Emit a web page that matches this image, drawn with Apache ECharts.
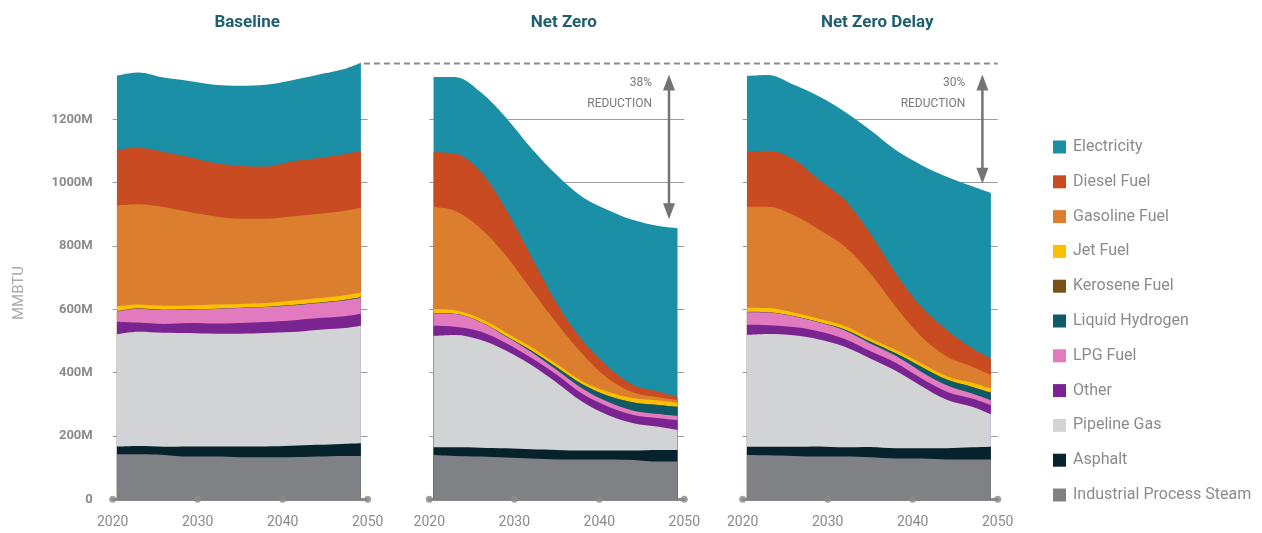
<!DOCTYPE html>
<html>
<head>
<meta charset="utf-8">
<script src="https://cdn.jsdelivr.net/npm/echarts@6/dist/echarts.min.js"></script>
<style>
  html, body { margin: 0; padding: 0; background: #fff; }
  #chart { width: 1262px; height: 533px; }
</style>
</head>
<body>
<div id="chart"></div>
<script>
// sample years (areas start a little after 2020 and stop just before 2050)
const years = [2020.5, 2023, 2026, 2029, 2032, 2035, 2038, 2041, 2044, 2047, 2049.2]
const tickYears = [2020, 2030, 2040, 2050]
const scenarios = ['Baseline', 'Net Zero', 'Net Zero Delay']

// stack order, bottom -> top
const fuels = [
  'Industrial Process Steam', 'Asphalt', 'Pipeline Gas', 'Other', 'LPG Fuel',
  'Liquid Hydrogen', 'Kerosene Fuel', 'Jet Fuel', 'Gasoline Fuel', 'Diesel Fuel', 'Electricity'
]
const fuelColors = [
  '#808184', '#06222b', '#d2d3d5', '#7a2491', '#e27abf',
  '#0f5a66', '#7a5217', '#fcc000', '#db7f2f', '#c84b22', '#1a8fa6'
]

// MMBTU (millions), one row per fuel in the order above
const baselineRows = [
  [142, 142, 140, 135, 135, 133, 133, 133, 135, 137, 137],
  [24, 26, 26, 32, 32, 34, 34, 36, 37, 38, 40],
  [355, 361, 360, 358, 356, 356, 358, 359, 363, 365, 371],
  [40, 29, 28, 32, 32, 34, 35, 37, 37, 37, 38],
  [32, 44, 44, 42, 46, 47, 47, 47, 47, 50, 50],
  [0, 0, 0, 0, 0, 0, 0, 1, 1, 1, 1],
  [1, 1, 1, 1, 1, 1, 1, 1, 1, 1, 1],
  [15, 12, 12, 12, 13, 12, 12, 13, 14, 14, 15],
  [319, 317, 312, 295, 279, 269, 266, 266, 266, 267, 268],
  [176, 178, 174, 174, 168, 167, 165, 174, 176, 179, 180],
  [234, 238, 235, 240, 247, 253, 258, 256, 263, 268, 278]
]
const netZeroRows = [
  [140, 137, 135, 132, 129, 126, 126, 126, 124, 119, 119],
  [24, 27, 28, 29, 29, 30, 28, 28, 30, 37, 37],
  [352, 355, 341, 309, 266, 212, 154, 112, 86, 73, 63],
  [32, 26, 26, 24, 23, 25, 25, 27, 26, 27, 31],
  [39, 40, 30, 20, 18, 15, 17, 15, 14, 13, 13],
  [0, 0, 0, 2, 5, 9, 13, 19, 26, 29, 29],
  [1, 1, 1, 0, 0, 0, 0, 0, 0, 0, 0],
  [13, 11, 10, 11, 11, 10, 10, 13, 13, 14, 13],
  [322, 314, 285, 243, 181, 129, 87, 42, 18, 10, 8],
  [173, 181, 179, 147, 105, 63, 42, 37, 24, 18, 11],
  [238, 242, 252, 289, 342, 405, 453, 495, 521, 523, 532]
]
const netZeroDelayRows = [
  [140, 139, 137, 135, 135, 133, 129, 129, 126, 126, 126],
  [26, 27, 29, 32, 29, 32, 32, 32, 35, 38, 40],
  [353, 356, 352, 338, 318, 280, 245, 197, 153, 128, 102],
  [32, 28, 26, 25, 24, 23, 25, 24, 26, 26, 29],
  [40, 40, 34, 28, 27, 24, 22, 21, 20, 16, 16],
  [0, 0, 0, 1, 3, 6, 8, 16, 18, 21, 24],
  [1, 1, 1, 0, 0, 0, 0, 0, 0, 0, 0],
  [13, 13, 11, 11, 11, 10, 11, 11, 11, 13, 13],
  [319, 320, 307, 281, 251, 206, 136, 84, 62, 51, 43],
  [174, 177, 176, 157, 147, 126, 106, 94, 84, 58, 52],
  [239, 239, 236, 264, 279, 326, 389, 448, 484, 512, 523]
]
const scenarioRows = [baselineRows, netZeroRows, netZeroDelayRows]
const arrowYear = 2048.2

const FONT = "'Liberation Sans Narrow', Roboto, 'Liberation Sans', sans-serif"
const GRAY = '#8b8b8b'
const gridLefts = [112.7, 429.3, 742.7]
const gridWidth = 255

const chart = echarts.init(document.getElementById('chart'), null, { renderer: 'canvas' })

function endTotal(rows) {
  return rows.reduce((s, r) => s + r[r.length - 1], 0)
}

// running totals bottom -> top; each layer is drawn down to zero and the
// lower layers are painted over it, which gives the stacked look
function cumulative(rows) {
  let run = years.map(() => 0)
  return rows.map(r => (run = run.map((v, k) => v + r[k])))
}

const grids = gridLefts.map(l => ({ left: l, width: gridWidth, top: 56, bottom: 33.7 }))

const xAxes = scenarios.map((s, g) => ({
  type: 'value', gridIndex: g, min: 2020, max: 2050, interval: 10,
  axisLine: { lineStyle: { color: GRAY, width: 3 } },
  axisTick: { show: false },
  splitLine: { show: false },
  axisLabel: { color: GRAY, fontSize: 14, fontFamily: FONT, margin: 16, formatter: v => String(v) }
}))

const yAxes = scenarios.map((s, g) => ({
  type: 'value', gridIndex: g, min: 0, max: 1400, interval: 200,
  axisLine: { show: false },
  axisTick: { show: false },
  splitLine: { show: true, showMinLine: false, showMaxLine: false, lineStyle: { color: '#9d9d9d', width: 1 } },
  axisLabel: {
    show: g === 0, color: GRAY, fontSize: 13, fontWeight: 'bold', fontFamily: FONT, margin: 20,
    showMaxLabel: false,
    formatter: v => (v === 0 ? '0' : v + 'M')
  }
}))

const series = []
scenarioRows.forEach((rows, g) => {
  const cum = cumulative(rows)
  for (let f = fuels.length - 1; f >= 0; f--) {
    series.push({
      name: fuels[f], type: 'line', xAxisIndex: g, yAxisIndex: g,
      smooth: 0.35, symbol: 'none', silent: true,
      lineStyle: { width: 0 },
      itemStyle: { color: fuelColors[f] },
      areaStyle: { color: fuelColors[f], opacity: 1, origin: 'start' },
      data: years.map((y, i) => [y, cum[f][i]])
    })
  }
  // round markers on the x axis line
  series.push({
    type: 'scatter', xAxisIndex: g, yAxisIndex: g, silent: true, clip: false, z: 5,
    symbolSize: 7, itemStyle: { color: GRAY },
    data: tickYears.map(y => [y, 0])
  })
})

chart.setOption({
  animation: false,
  backgroundColor: '#fff',
  textStyle: { fontFamily: FONT },
  title: scenarios.map((s, g) => ({
    text: s,
    left: gridLefts[g] + gridWidth / 2 + 2,
    top: 9,
    textAlign: 'center',
    textStyle: { color: '#1e5e6e', fontSize: 17, fontWeight: 'bold', fontFamily: FONT }
  })),
  legend: {
    orient: 'vertical', left: 1048, top: 132,
    itemWidth: 13, itemHeight: 13, itemGap: 14.8,
    icon: 'rect',
    data: fuels.slice().reverse(),
    textStyle: { color: GRAY, fontSize: 16, lineHeight: 20, fontFamily: FONT, padding: [0, 0, 0, 2] },
    selectedMode: false
  },
  grid: grids,
  xAxis: xAxes,
  yAxis: yAxes,
  series
})

// annotations: dashed baseline-2050 level and reduction arrows, placed via the axes
const px = (g, pt) => chart.convertToPixel({ gridIndex: g }, pt)
const baseEnd = endTotal(baselineRows)
const dashY = Math.round(px(0, [2050, baseEnd])[1]) + 0.5
const dashX0 = px(0, [years[years.length - 1], baseEnd])[0] + 3
const dashX1 = px(2, [2050, 0])[0]
const ARROW = '#747474'

const graphic = [
  {
    type: 'line', silent: true,
    shape: { x1: dashX0, y1: dashY, x2: dashX1, y2: dashY },
    style: { stroke: GRAY, lineWidth: 2, lineDash: [6, 4] }
  },
  {
    type: 'text', silent: true, x: 19, y: 293, rotation: Math.PI / 2,
    style: { text: 'MMBTU', align: 'center', verticalAlign: 'middle', fontSize: 15, fill: '#a9a9a9', fontFamily: FONT }
  }
]

;[1, 2].forEach(g => {
  const end = endTotal(scenarioRows[g])
  const pct = Math.round((1 - end / baseEnd) * 100)
  const x = px(g, [arrowYear, 0])[0]
  const yTop = dashY + 11
  const yBot = px(g, [2050, end])[1] - 9
  graphic.push(
    {
      type: 'line', silent: true,
      shape: { x1: x, y1: yTop + 10, x2: x, y2: yBot - 10 },
      style: { stroke: ARROW, lineWidth: 2.5 }
    },
    {
      type: 'polygon', silent: true,
      shape: { points: [[x, yTop], [x - 6, yTop + 16], [x + 6, yTop + 16]] },
      style: { fill: ARROW }
    },
    {
      type: 'polygon', silent: true,
      shape: { points: [[x, yBot], [x - 6, yBot - 16], [x + 6, yBot - 16]] },
      style: { fill: ARROW }
    },
    {
      type: 'text', silent: true, x: x - 17, y: dashY + 9,
      style: {
        text: pct + '%\nREDUCTION', align: 'right', verticalAlign: 'top',
        fontSize: 12, lineHeight: 21, fill: '#7a7a7a', fontFamily: FONT
      }
    }
  )
})

chart.setOption({ graphic })
</script>
</body>
</html>
